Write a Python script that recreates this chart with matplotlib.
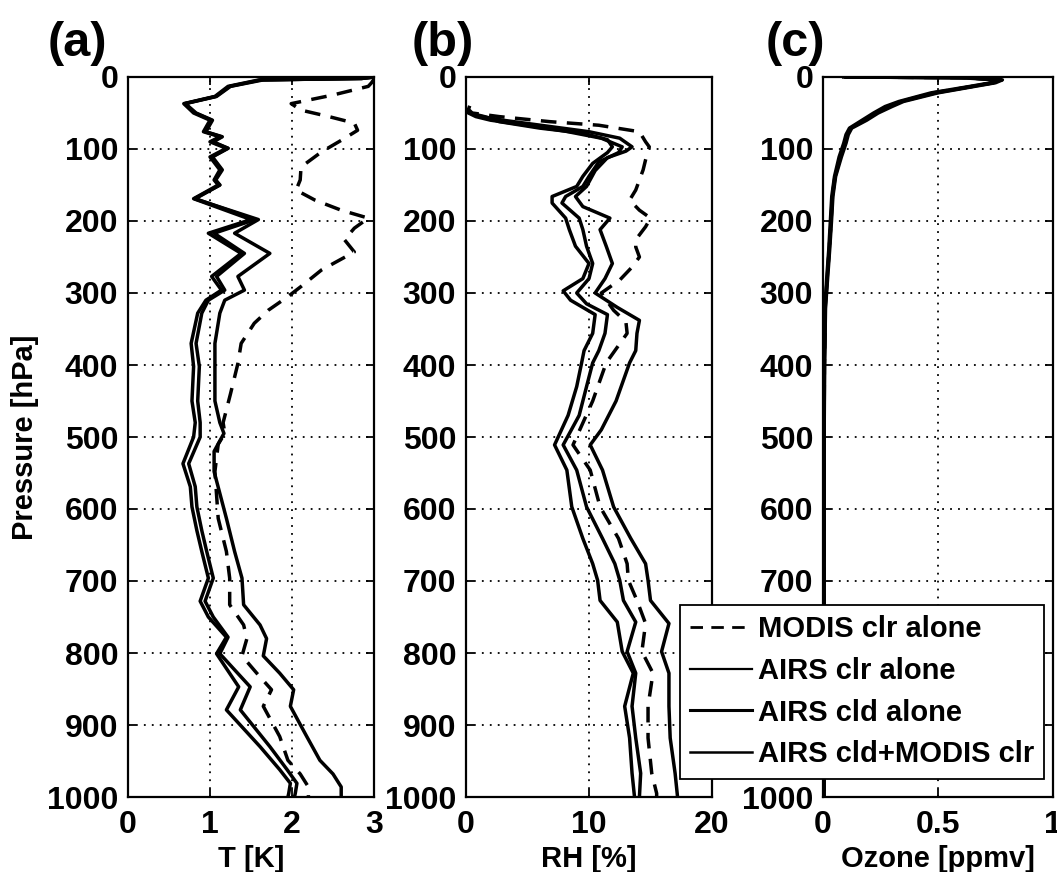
import numpy as np
import matplotlib
matplotlib.use("Agg")
import matplotlib.pyplot as plt
from matplotlib.lines import Line2D

plt.rcParams['font.family'] = ['Liberation Sans', 'DejaVu Sans']
plt.rcParams['font.weight'] = 'bold'
plt.rcParams['axes.labelweight'] = 'bold'

labels = ["MODIS clr alone", "AIRS clr alone", "AIRS cld alone", "AIRS cld+MODIS clr"]

# ---- panel (a): temperature error [K] ----
p_T_modis = [3, 8, 13, 25, 37, 46, 55, 64, 74, 88, 104, 125, 143, 157, 171, 185, 196, 210, 226,
             243, 268, 291, 305, 324, 342, 370, 398, 440, 480, 495, 510, 548, 613, 659, 696, 733,
             761, 780, 804, 828, 851, 874, 916, 949, 968, 986, 1000]
T_modis = [3.0, 2.97, 2.93, 2.5, 1.99, 2.11, 2.45, 2.76, 2.8, 2.6, 2.36, 2.11, 2.1, 2.05, 2.28,
           2.6, 2.93, 2.76, 2.64, 2.76, 2.36, 2.11, 1.95, 1.71, 1.54, 1.38, 1.34, 1.25, 1.16, 1.18,
           1.1, 1.06, 1.1, 1.2, 1.24, 1.24, 1.41, 1.45, 1.39, 1.57, 1.75, 1.65, 1.85, 1.95, 2.1,
           2.2, 2.2]

p_T_s = [0, 2, 4, 13, 27, 37, 50, 60, 76, 83, 90, 99, 111, 129, 143, 150, 164, 169, 198, 217,
         245, 277, 296, 310, 328, 370, 402, 450, 480, 500, 537, 569, 597, 630, 659, 696, 728,
         750, 778, 801, 847, 879, 930, 962, 981, 995, 1000]
T_s1 = [3.0, 2.85, 1.6, 1.22, 1.06, 0.68, 0.8, 1.0, 0.92, 1.12, 1.0, 1.2, 1.0, 1.12, 1.05, 1.1,
        0.88, 0.8, 1.5, 0.98, 1.38, 1.02, 1.14, 0.95, 0.85, 0.77, 0.8, 0.78, 0.82, 0.8, 0.67,
        0.76, 0.78, 0.84, 0.9, 0.98, 0.88, 0.98, 1.2, 1.08, 1.35, 1.2, 1.61, 1.85, 1.98, 1.96,
        1.95]
T_s2 = [3.0, 2.85, 1.65, 1.25, 1.08, 0.7, 0.83, 1.03, 0.95, 1.15, 1.04, 1.22, 1.03, 1.15, 1.07,
        1.12, 0.9, 0.82, 1.55, 1.05, 1.42, 1.08, 1.18, 0.98, 0.9, 0.83, 0.87, 0.85, 0.88, 0.88,
        0.74, 0.82, 0.84, 0.9, 0.96, 1.04, 0.94, 1.04, 1.22, 1.12, 1.49, 1.37, 1.73, 1.94, 2.06,
        2.04, 2.03]
p_T_s3 = [0, 2, 4, 13, 27, 37, 50, 60, 76, 83, 90, 99, 111, 129, 143, 150, 164, 169, 198, 217,
          245, 277, 296, 310, 328, 370, 402, 450, 480, 495, 520, 548, 613, 659, 696, 733, 761,
          780, 804, 828, 851, 874, 916, 949, 968, 986, 1000]
T_s3 = [3.0, 2.85, 1.62, 1.24, 1.07, 0.69, 0.82, 1.02, 0.94, 1.14, 1.02, 1.22, 1.02, 1.14, 1.06,
        1.12, 0.89, 0.81, 1.59, 1.3, 1.73, 1.34, 1.42, 1.18, 1.12, 1.06, 1.06, 1.06, 1.12, 1.17,
        1.05, 1.05, 1.2, 1.3, 1.39, 1.41, 1.61, 1.69, 1.65, 1.85, 2.02, 1.98, 2.18, 2.34, 2.5,
        2.6, 2.6]

# ---- panel (b): relative humidity error [%] ----
p_RH_modis = [40, 45, 50, 55, 62, 67, 76, 90, 97, 115, 129, 157, 171, 185, 196, 208, 226, 236,
              250, 264, 282, 300, 324, 340, 356, 397, 450, 511, 546, 597, 641, 676, 699, 727,
              759, 798, 828, 874, 918, 967, 995, 1000]
RH_modis = [0.3, 0.2, 0.5, 2.7, 6.8, 10.8, 14.1, 14.6, 14.9, 14.6, 14.4, 13.8, 13.3, 14.1, 15.0,
            14.6, 13.8, 13.8, 14.1, 13.5, 12.5, 11.0, 12.0, 13.0, 13.1, 11.4, 10.3, 8.7, 10.1,
            10.9, 12.4, 13.1, 13.2, 13.9, 14.6, 14.3, 15.2, 14.8, 14.8, 15.1, 15.5, 15.5]

p_RH_s1 = [46, 50, 55, 62, 71, 78, 87, 97, 105, 120, 138, 152, 166, 175, 196, 212, 235, 259, 280,
           297, 310, 330, 356, 380, 397, 430, 470, 511, 546, 597, 641, 676, 699, 727, 757, 798,
           828, 874, 918, 967, 1000]
RH_s1 = [0.0, 0.3, 1.5, 2.7, 6.0, 9.5, 11.5, 11.9, 11.5, 10.3, 9.5, 9.0, 7.0, 7.0, 8.1, 8.4, 8.9,
         10.0, 9.5, 7.9, 8.5, 10.5, 10.3, 9.6, 9.4, 9.0, 8.3, 7.2, 8.2, 8.6, 9.5, 10.3, 10.7,
         10.9, 12.3, 12.7, 13.6, 12.9, 13.3, 13.5, 13.7]
p_RH_s2 = [50, 55, 60, 66, 75, 85, 97, 105, 118, 138, 152, 166, 175, 196, 212, 235, 259, 280,
           300, 315, 330, 356, 380, 397, 430, 470, 511, 546, 597, 641, 676, 699, 727, 757, 798,
           828, 874, 918, 967, 1000]
RH_s2 = [0.2, 0.8, 2.0, 4.5, 8.0, 11.0, 12.7, 12.4, 10.8, 10.0, 9.5, 8.1, 7.8, 9.2, 9.5, 9.8,
         10.3, 10.0, 9.0, 9.8, 11.5, 11.3, 10.8, 10.3, 9.8, 9.2, 7.9, 9.0, 9.8, 11.1, 12.1, 12.5,
         12.8, 13.8, 13.1, 13.8, 13.5, 13.8, 14.2, 14.1]
p_RH_s3 = [48, 54, 60, 68, 76, 85, 97, 103, 112, 130, 152, 166, 180, 196, 212, 235, 259, 280,
           300, 320, 338, 356, 380, 397, 450, 490, 511, 546, 597, 641, 676, 699, 727, 759, 798,
           828, 874, 918, 967, 1000]
RH_s3 = [0.1, 1.0, 3.0, 6.5, 10.0, 12.5, 13.5, 13.0, 11.5, 10.5, 9.8, 8.9, 9.5, 11.7, 10.9,
         11.4, 11.9, 11.3, 10.5, 12.3, 14.1, 13.9, 13.8, 13.3, 12.2, 11.0, 10.1, 11.1, 12.0,
         13.4, 14.6, 14.8, 15.0, 16.5, 15.9, 16.5, 16.5, 16.6, 17.0, 17.2]

# ---- panel (c): ozone error [ppmv] ----
p_O3 = [0, 1, 4, 8, 13, 22, 34, 41, 50, 60, 71, 80, 92, 111, 138, 166, 200, 240, 280, 320, 400,
        500, 700, 1000]
O3_modis = [0.1, 0.62, 0.77, 0.74, 0.65, 0.48, 0.34, 0.28, 0.23, 0.18, 0.12, 0.105, 0.095,
            0.075, 0.052, 0.04, 0.035, 0.027, 0.018, 0.01, 0.006, 0.005, 0.004, 0.004]
O3_s1 = [0.09, 0.6, 0.76, 0.73, 0.64, 0.47, 0.33, 0.27, 0.22, 0.17, 0.115, 0.1, 0.09, 0.07,
         0.05, 0.038, 0.032, 0.025, 0.016, 0.009, 0.005, 0.004, 0.004, 0.004]
O3_s2 = [0.1, 0.63, 0.78, 0.75, 0.66, 0.5, 0.35, 0.3, 0.24, 0.19, 0.125, 0.11, 0.1, 0.08,
         0.055, 0.043, 0.037, 0.029, 0.02, 0.011, 0.007, 0.005, 0.005, 0.004]
O3_s3 = [0.1, 0.62, 0.77, 0.74, 0.65, 0.49, 0.34, 0.29, 0.23, 0.18, 0.12, 0.105, 0.095, 0.076,
         0.053, 0.041, 0.035, 0.027, 0.018, 0.01, 0.006, 0.005, 0.004, 0.004]

W = 1057.0
H = 872.0
fig = plt.figure(figsize=(W / 100, H / 100), dpi=100)

def box(x0, x1):
    return [x0 / W, 1 - 797 / H, (x1 - x0) / W, 720 / H]

LW = 2.5
DASH = (4.5, 3.0)

def style(ax, xlim, xticks, xticklabels, xlabel):
    ax.set_xlim(*xlim)
    ax.set_ylim(1000, 0)
    ax.set_xticks(xticks)
    ax.set_xticklabels(xticklabels)
    ax.set_yticks(np.arange(0, 1001, 100))
    ax.set_yticklabels([str(v) for v in range(0, 1001, 100)])
    ax.grid(True, color='k', linestyle=(0, (1, 3.4)), linewidth=1.3)
    ax.tick_params(direction='in', length=6, width=1.3, top=True, right=True,
                   labelsize=23)
    ax.tick_params(axis='x', pad=9)
    ax.tick_params(axis='y', pad=7)
    for s in ax.spines.values():
        s.set_linewidth(1.6)
    ax.set_xlabel(xlabel, fontsize=21, labelpad=4)


ax1 = fig.add_axes(box(128, 374))
ax1.plot(T_modis, p_T_modis, 'k', lw=LW, dashes=DASH)
ax1.plot(T_s3, p_T_s3, 'k', lw=LW)
ax1.plot(T_s2, p_T_s, 'k', lw=LW)
ax1.plot(T_s1, p_T_s, 'k', lw=LW)
style(ax1, (0, 3), [0, 1, 2, 3], ['0', '1', '2', '3'], 'T [K]')
ax1.set_ylabel('Pressure [hPa]', fontsize=21, labelpad=6)

ax2 = fig.add_axes(box(466, 712))
ax2.plot(RH_modis, p_RH_modis, 'k', lw=LW, dashes=DASH)
ax2.plot(RH_s3, p_RH_s3, 'k', lw=LW)
ax2.plot(RH_s2, p_RH_s2, 'k', lw=LW)
ax2.plot(RH_s1, p_RH_s1, 'k', lw=LW)
style(ax2, (0, 20), [0, 10, 20], ['0', '10', '20'], 'RH [%]')

ax3 = fig.add_axes(box(823, 1053))
ax3.plot(O3_modis, p_O3, 'k', lw=LW, dashes=DASH)
ax3.plot(O3_s3, p_O3, 'k', lw=LW)
ax3.plot(O3_s2, p_O3, 'k', lw=LW)
ax3.plot(O3_s1, p_O3, 'k', lw=LW)
style(ax3, (0, 1), [0, 0.5, 1], ['0', '0.5', '1'], 'Ozone [ppmv]')

for txt, xc in [('(a)', 77), ('(b)', 443), ('(c)', 795)]:
    fig.text(xc / W, 1 - 44 / H, txt, fontsize=35, fontweight='bold',
             ha='center', va='center')

handles = [Line2D([], [], color='k', lw=2.0, dashes=DASH),
           Line2D([], [], color='k', lw=1.6),
           Line2D([], [], color='k', lw=2.2),
           Line2D([], [], color='k', lw=1.8)]
leg = fig.legend(handles, labels, loc='upper right', bbox_to_anchor=(1044 / W, 1 - 605 / H),
                 borderaxespad=0, fancybox=False, framealpha=1, edgecolor='k',
                 fontsize=21, handlelength=2.1, handletextpad=0.2, borderpad=0.35,
                 labelspacing=0.47)
leg.get_frame().set_linewidth(1.3)

fig.savefig('out.png', dpi=100)
